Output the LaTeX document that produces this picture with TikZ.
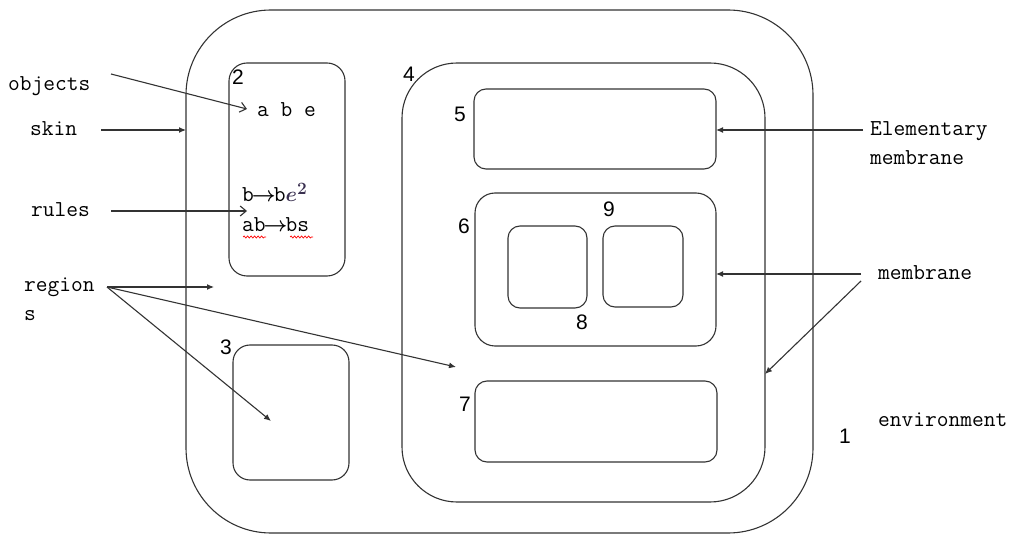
\documentclass[tikz,border=0pt]{standalone}
\usepackage{fontspec}
\newfontfamily\digitfont{Liberation Sans}
\usetikzlibrary{arrows.meta,decorations.pathmorphing}
\definecolor{ln}{HTML}{333333}
\definecolor{eq}{HTML}{3A3050}
\tikzset{
 mem/.style={draw=ln, line width=1.1pt, inner sep=0pt, outer sep=0pt},
 lbl/.style={inner sep=0pt, anchor=base west, font=\ttfamily\fontsize{22.8}{26}\selectfont},
 num/.style={inner sep=0pt, anchor=base west, font=\digitfont\fontsize{21}{24}\selectfont},
 farrow/.style={draw=ln, line width=1.1pt, -{Latex[length=7pt,width=6pt]}},
 oarrow/.style={draw=ln, line width=1.1pt, -{Straight Barb[length=6pt,width=10pt]}},
 wavy/.style={draw=red, line width=0.7pt, decorate, decoration={snake, amplitude=1pt, segment length=3.5pt}}
}
\begin{document}
\begin{tikzpicture}[x=1pt,y=-1pt]
\useasboundingbox (0,0) rectangle (1012,534);
% membranes
\node[mem, minimum width=627pt, minimum height=523pt, rounded corners=85pt] (skin) at (499.5,271.5) {};
\node[mem, minimum width=363pt, minimum height=439pt, rounded corners=55pt] (b4) at (583.5,282.5) {};
\node[mem, minimum width=116pt, minimum height=213pt, rounded corners=18pt] (b2) at (287,169.5) {};
\node[mem, minimum width=116pt, minimum height=135pt, rounded corners=17pt] (b3) at (291,412.5) {};
\node[mem, minimum width=242pt, minimum height=80pt, rounded corners=12pt] (b5) at (595,129) {};
\node[mem, minimum width=241pt, minimum height=153pt, rounded corners=20pt] (b6) at (595.5,269.5) {};
\node[mem, minimum width=79pt, minimum height=82pt, rounded corners=12pt] (b8) at (547.5,267) {};
\node[mem, minimum width=80pt, minimum height=81pt, rounded corners=12pt] (b9) at (643,266.5) {};
\node[mem, minimum width=242pt, minimum height=81pt, rounded corners=12pt] (b7) at (596,421.5) {};
% numbers
\node[num] (n2) at (232,85) {2};
\node[num] (n4) at (403,82) {4};
\node[num] (n5) at (454,122) {5};
\node[num] (n6) at (458,234) {6};
\node[num] (n9) at (603,217) {9};
\node[num] (n8) at (576,330) {8};
\node[num] (n3) at (220,355) {3};
\node[num] (n7) at (459,411) {7};
\node[num] (n1) at (839,443) {1};
% labels
\node[lbl] (objects) at (8,91) {objects};
\node[lbl] (skinl) at (30,136) {skin};
\node[lbl] (rules) at (31,217) {rules};
\node[lbl] (region) at (24,292) {region};
\node[lbl] (regs) at (24,321) {s};
\node[lbl] (elem) at (870,136) {Elementary};
\node[lbl] (elem2) at (870,165) {membrane};
\node[lbl] (memb) at (878,280) {membrane};
\node[lbl] (env) at (878,427) {environment};
% contents of region 2
\node[lbl] (abe) at (257,117) {a b e};
\node[lbl] (r1) at (242,202) {b\kern-2pt{\boldmath$\rightarrow$}\kern-2pt b{\color{eq}\boldmath$e^2$}};
\node[lbl] (r2) at (242,232) {ab\kern-2pt{\boldmath$\rightarrow$}\kern-2pt bs};
\draw[wavy] (243,237) -- (266,237);
\draw[wavy] (290,237) -- (313,237);
% arrow end points
\coordinate (objS) at (111,74);
\coordinate (objE) at (247,109);
\coordinate (skinS) at (101,130);
\coordinate (rulS) at (111,211);
\coordinate (rulE) at (247,211);
\coordinate (regS) at (107,287);
\coordinate (regE1) at (214,287);
\coordinate (regE2) at (456,367);
\coordinate (regE3) at (271,421);
\coordinate (elemS) at (863,130);
\coordinate (memS) at (861,274);
\coordinate (memS2) at (861,281);
\coordinate (memE2) at (765,374);
% arrows
\draw[oarrow] (objS) -- (objE);
\draw[farrow] (skinS) -- (skinS -| skin.west);
\draw[oarrow] (rulS) -- (rulE);
\draw[farrow] (regS) -- (regE1);
\draw[farrow] (regS) -- (regE2);
\draw[farrow] (regS) -- (regE3);
\draw[farrow] (elemS) -- (elemS -| b5.east);
\draw[farrow] (memS) -- (memS -| b6.east);
\draw[farrow] (memS2) -- (memE2 -| b4.east);
\end{tikzpicture}
\end{document}
